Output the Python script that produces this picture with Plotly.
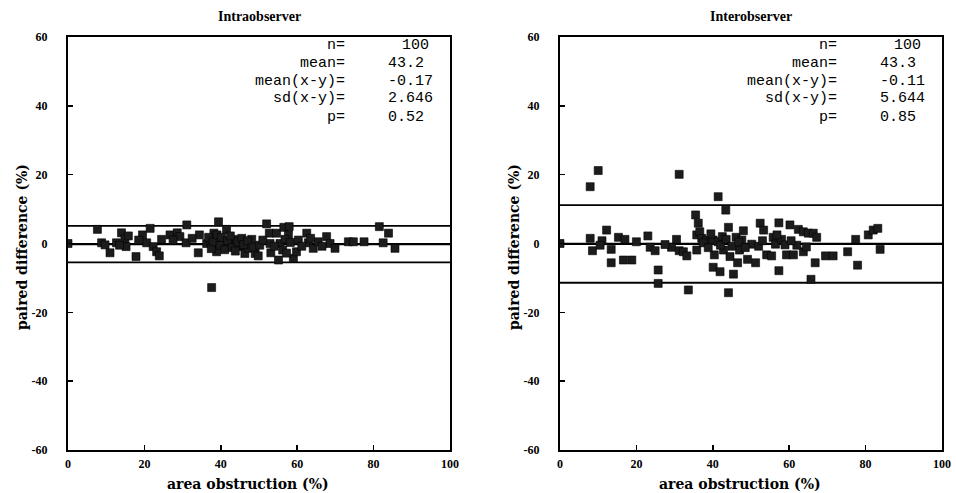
import plotly.graph_objects as go

# ---------------- data ----------------
intra_x = [0, 7.7, 8.8, 9.7, 11, 12.7, 14, 14.9, 15.8, 15.2, 17.8, 19.5, 21.5, 20.6, 22.3, 23.2, 23.9,
           26.7, 28.6, 29.3, 31.1, 30.9, 34.4, 34.1, 36.3, 37.2, 37.6, 38.2, 38.5, 39.4, 39.6, 38.9,
           40.7, 41.5, 42, 43.3, 44.1, 45, 46.3, 47.2, 48.1, 49, 49.8, 52, 52.7, 52.9, 53.1, 54.6,
           55.1, 55.5, 56.2, 56.5, 57.9, 57.7, 59, 59.8, 60.3, 62.5, 62.9, 64.2, 65.5, 67.7, 68.6,
           69.9, 73.4, 74.7, 77.5, 81.5, 83.9, 82.5, 85.6,
           36.8, 37.5, 38.0, 39.0, 39.8, 40.2, 41.0, 41.8, 42.5, 43.0, 43.8, 44.5, 45.5, 46.0, 47.0,
           48.5, 50.2, 51.0, 54.0, 56.8, 57.2, 58.2, 61.2, 63.5, 66.5, 24.5, 27.5, 18.5, 13.5, 32.5]
intra_y = [0, 4.1, 0.2, -0.4, -2.7, 0.2, 3.1, 1.3, 2.2, -0.9, -3.8, 2.5, 4.4, 0.2, -0.9, -2.4, -3.6,
           2.5, 3.1, 2.0, 5.4, 0.2, 2.5, -2.7, 0.0, 1.0, -12.8, 3.0, -0.9, 6.3, 1.5, -2.4,
           0.0, 4.1, -0.9, 0.2, 1.2, -0.9, -2.9, -1.4, 1.2, -2.9, -3.6, 5.7, 3.0, 0.0, -2.7, 3.0,
           -4.8, 0.0, -1.9, 4.7, 4.9, 2.5, -4.3, -2.4, 1.0, 3.0, 0.2, -1.4, 0.5, 2.0, 0.0,
           -1.4, 0.5, 0.5, 0.5, 4.9, 3.0, 0.2, -1.4,
           1.8, -1.5, 0.5, 2.5, -0.5, 1.8, -1.8, 0.8, 2.2, -1.2, -2.2, 0.5, 1.5, -0.3, 0.8,
           -1.0, -0.5, 1.0, -0.8, 1.2, -2.8, 0.3, -0.8, 1.5, -0.8, 1.2, 1.0, 1.0, -0.5, 1.5]

inter_x = [0, 10, 7.9, 31.2, 41.4, 43.4, 7.9, 8.5, 11, 12.2, 13.4, 13.4, 15.3, 17, 16.6, 18.8, 23,
           23.6, 24.9, 25.7, 25.7, 29.2, 30.5, 31.2, 32.3, 33.2, 33.6, 35.5, 36.2, 35.8, 36.6, 35.8,
           37.1, 38.4, 40.1, 40.4, 40.1, 41.9, 41.4, 42.5, 42.8, 44.1, 44.5, 45.4, 44.1, 46.1, 46.5,
           47, 48, 47.6, 49.1, 50.2, 51.2, 52.4, 53.3, 54.1, 55.4, 55.8, 56.4, 57.3, 57.3, 58,
           58.9, 59.3, 60.2, 61.1, 62.4, 63.7, 63.7, 65, 66.3, 67.2, 66.8, 65.7, 69.5, 71.5, 75.3,
           77.4, 77.9, 80.7, 82, 83.2, 83.8,
           37.5, 38.8, 39.5, 42.0, 43.5, 45.0, 46.8, 48.5, 52.0, 53.0, 56.8, 20.0, 27.5, 62.0, 64.5,
           60.5, 10.5]
inter_y = [0, 21.2, 16.5, 20.1, 13.6, 9.7, 1.5, -2.1, 0.8, 3.9, -1.7, -5.6, 1.8, 1.2, -4.8, -4.8, 2.2,
           -1.1, -2.1, -7.7, -11.6, -1.1, 1.2, -2.1, -2.4, -3.6, -13.5, 8.3, 5.9, 2.5, 3.4, -1.9,
           1.5, 1.0, 1.0, -3.3, -6.9, -8.2, 0.5, 2.0, -1.9, 4.7, -3.8, -8.9, -14.3, 1.8, -5.6,
           -1.9, 3.7, 1.0, -4.6, -0.2, -5.6, 5.9, 3.9, -3.3, -3.6, 1.8, -0.2, 6.0, -7.9, 1.2,
           -0.4, -3.3, 5.4, -3.3, 4.1, -2.4, 3.4, 3.0, 3.0, 1.8, -5.6, -10.4, -3.6, -3.6, -2.4,
           1.2, -6.3, 2.5, 3.9, 4.4, -1.7,
           0.2, -1.2, 2.8, -0.5, 1.2, -0.8, 0.4, -1.2, -0.8, 0.8, 2.5, 0.5, -0.3, -0.5, -1.0,
           0.8, -0.5]

titles = ["Intraobserver", "Interobserver"]
stat_labels = ["n=", "mean=", "mean(x-y)=", "sd(x-y)=", "p="]
intra_stats = ["100", "43.2", "-0.17", "2.646", "0.52"]
inter_stats = ["100", "43.3", "-0.11", "5.644", "0.85"]
intra_mean_diff, intra_sd = -0.17, 2.646
inter_mean_diff, inter_sd = -0.11, 5.644

x_ticks = [0, 20, 40, 60, 80, 100]
y_ticks = [-60, -40, -20, 0, 20, 40, 60]
y_tick_labels = ["-60", "-40", "-20", "0", "20", "40", "60"]
x_label = "area obstruction (%)"
y_label = "paired difference (%)"

# ---------------- layout helpers ----------------
W, H = 956, 493
def px(x):
    return x / W
def py(y):
    return 1 - y / H

fig = go.Figure()

panels = [
    dict(xs=intra_x, ys=intra_y, md=intra_mean_diff, sd=intra_sd, stats=intra_stats,
         x0=68, x1=450, xa="x", ya="y", title=titles[0]),
    dict(xs=inter_x, ys=inter_y, md=inter_mean_diff, sd=inter_sd, stats=inter_stats,
         x0=560, x1=942, xa="x2", ya="y2", title=titles[1]),
]
ytop, ybot = 37, 450

serif = "Liberation Serif"
wide_serif = "DejaVu Serif"
mono = "Liberation Mono"
annotations = []

for i, p in enumerate(panels):
    for val, w in [(p["md"], 2.2), (p["md"] + 2 * p["sd"], 1.8), (p["md"] - 2 * p["sd"], 1.8)]:
        fig.add_trace(go.Scatter(x=[0, 100], y=[val, val], mode="lines",
                                 line=dict(color="black", width=w),
                                 xaxis=p["xa"], yaxis=p["ya"], hoverinfo="skip"))
    fig.add_trace(go.Scatter(x=p["xs"], y=p["ys"], mode="markers",
                             marker=dict(symbol="square", size=8, color="#1c1c1c",
                                         line=dict(color="black", width=0.6)),
                             xaxis=p["xa"], yaxis=p["ya"], hoverinfo="skip"))
    cx = (p["x0"] + p["x1"]) / 2
    off = p["x0"] - 68
    annotations.append(dict(x=px(cx), y=py(17), xref="paper", yref="paper", text="<b>%s</b>" % p["title"],
                            showarrow=False, font=dict(family=serif, size=14, color="black"),
                            xanchor="center", yanchor="middle"))
    annotations.append(dict(x=px(cx - 11), y=py(484), xref="paper", yref="paper", text="<b>%s</b>" % x_label,
                            showarrow=False, font=dict(family=wide_serif, size=14, color="black"),
                            xanchor="center", yanchor="middle"))
    annotations.append(dict(x=px(p["x0"] - 46), y=py(247), xref="paper", yref="paper", text="<b>%s</b>" % y_label,
                            showarrow=False, textangle=-90, font=dict(family=wide_serif, size=14, color="black"),
                            xanchor="center", yanchor="middle"))
    line_y = [45, 63, 81, 99, 117]
    for j, (lab, val) in enumerate(zip(stat_labels, p["stats"])):
        annotations.append(dict(x=px(347 + off), y=py(line_y[j]), xref="paper", yref="paper", text=lab,
                                showarrow=False, font=dict(family=mono, size=15, color="black"),
                                xanchor="right", yanchor="middle"))
        if len(val) == 3:
            annotations.append(dict(x=px(431 + off), y=py(line_y[j]), xref="paper", yref="paper", text=val,
                                    showarrow=False, font=dict(family=mono, size=15, color="black"),
                                    xanchor="right", yanchor="middle"))
        else:
            annotations.append(dict(x=px(386 + off), y=py(line_y[j]), xref="paper", yref="paper", text=val,
                                    showarrow=False, font=dict(family=mono, size=15, color="black"),
                                    xanchor="left", yanchor="middle"))

axis_common = dict(showline=True, linecolor="black", linewidth=2, mirror=True,
                   ticks="inside", ticklen=5, tickwidth=1.5, tickcolor="black",
                   showgrid=False, zeroline=False, automargin=False,
                   tickfont=dict(family=serif, size=12, color="black"))

xa = dict(axis_common, range=[0, 100], tickvals=x_ticks, ticktext=["<b>%d</b>" % v for v in x_ticks],
          ticklabelstandoff=2)
ya = dict(axis_common, range=[-60, 60], tickvals=y_ticks, ticktext=["<b>%s</b>" % t for t in y_tick_labels],
          ticklabelstandoff=16)

fig.update_layout(
    width=W, height=H, margin=dict(l=0, r=0, t=0, b=0, pad=0),
    paper_bgcolor="white", plot_bgcolor="white", showlegend=False,
    xaxis=dict(xa, domain=[px(68), px(450)], anchor="y"),
    yaxis=dict(ya, domain=[py(ybot), py(ytop)], anchor="x"),
    xaxis2=dict(xa, domain=[px(560), px(942)], anchor="y2"),
    yaxis2=dict(ya, domain=[py(ybot), py(ytop)], anchor="x2"),
    annotations=annotations,
    hovermode=False,
)

fig.write_html("out.html", config={"displayModeBar": False, "staticPlot": True},
               post_script="document.body.style.margin='0';")
